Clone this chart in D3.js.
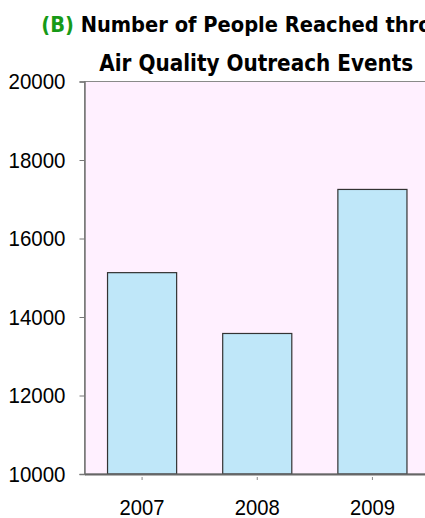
<!DOCTYPE html>
<html>
<head>
<meta charset="utf-8">
<script src="https://cdn.jsdelivr.net/npm/d3@7"></script>
<style>
  body { margin: 0; background: #fff; }
  svg { display: block; }
</style>
</head>
<body>
<div id="chart"></div>
<script>
// Data
const years = ["2007", "2008", "2009"];
const peopleReached = [15130, 13580, 17250];
const yTicks = [10000, 12000, 14000, 16000, 18000, 20000];
const titlePrefix = "(B)";
const titleLine1 = " Number of People Reached through";
const titleLine2 = "Air Quality Outreach Events";

const width = 425;
const height = 518;
// plot area runs past the right edge of the picture
const margin = { top: 81.5, right: -5, bottom: 44, left: 84.5 };

const svg = d3.select("#chart")
  .append("svg")
  .attr("width", width)
  .attr("height", height);

const x = d3.scaleBand()
  .domain(years)
  .range([margin.left, width - margin.right])
  .paddingInner(0.4)
  .paddingOuter(0.2);

const y = d3.scaleLinear()
  .domain([10000, 20000])
  .range([height - margin.bottom, margin.top]);

// plot background
svg.append("rect")
  .attr("x", margin.left)
  .attr("y", margin.top)
  .attr("width", width - margin.right - margin.left)
  .attr("height", y(10000) - margin.top)
  .attr("fill", "#fff0ff")
  .attr("stroke", "#8a8a8a")
  .attr("stroke-width", 1);

// bars
svg.selectAll(".bar")
  .data(years)
  .enter()
  .append("rect")
  .attr("class", "bar")
  .attr("x", d => x(d))
  .attr("y", (d, i) => y(peopleReached[i]))
  .attr("width", x.bandwidth())
  .attr("height", (d, i) => y(10000) - y(peopleReached[i]))
  .attr("fill", "#bfe7f9")
  .attr("stroke", "#333")
  .attr("stroke-width", 1.2);

const tickFont = "'Liberation Sans', Arial, sans-serif";

// y axis
const yAxis = svg.append("g")
  .attr("transform", `translate(${margin.left}, 0)`)
  .call(d3.axisLeft(y).tickValues(yTicks).tickSize(5).tickPadding(14).tickFormat(d3.format("d")));
yAxis.select(".domain").attr("stroke", "#777").attr("stroke-width", 1.5);
yAxis.selectAll(".tick line").attr("stroke", "#777");
yAxis.selectAll("text")
  .attr("fill", "#000")
  .attr("textLength", 57)
  .attr("lengthAdjust", "spacingAndGlyphs")
  .style("font-family", tickFont)
  .style("font-size", "22px");

// x axis
const xAxis = svg.append("g")
  .attr("transform", `translate(0, ${y(10000)})`)
  .call(d3.axisBottom(x).tickSizeInner(6).tickSizeOuter(0).tickPadding(19));
xAxis.select(".domain").attr("stroke", "#666").attr("stroke-width", 2);
xAxis.selectAll(".tick line").attr("stroke", "#888").attr("y1", 3);
xAxis.selectAll("text")
  .attr("fill", "#000")
  .attr("textLength", 45)
  .attr("lengthAdjust", "spacingAndGlyphs")
  .style("font-family", tickFont)
  .style("font-size", "22px");

// title
const titleX = (margin.left + width - margin.right) / 2;
const t1 = svg.append("text")
  .attr("x", titleX)
  .attr("y", 32)
  .attr("text-anchor", "middle")
  .attr("textLength", 432)
  .attr("lengthAdjust", "spacingAndGlyphs")
  .style("font-family", "'Comic Sans MS', 'DejaVu Sans', sans-serif")
  .style("font-weight", "bold")
  .style("font-size", "21px");
t1.append("tspan").attr("fill", "#179a17").text(titlePrefix);
t1.append("tspan").attr("fill", "#000").text(titleLine1);

svg.append("text")
  .attr("x", titleX - 1)
  .attr("y", 71)
  .attr("text-anchor", "middle")
  .attr("textLength", 314)
  .attr("lengthAdjust", "spacingAndGlyphs")
  .style("font-family", "'Comic Sans MS', 'DejaVu Sans', sans-serif")
  .style("font-weight", "bold")
  .style("font-size", "23px")
  .attr("fill", "#000")
  .text(titleLine2);
</script>
</body>
</html>
